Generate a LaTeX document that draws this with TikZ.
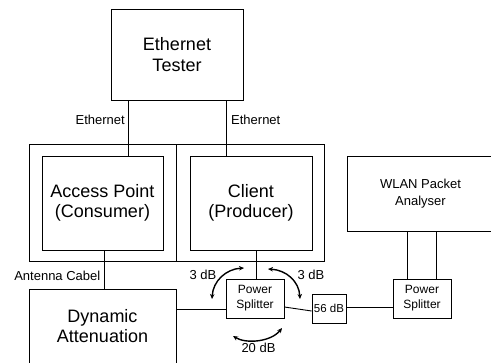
\documentclass[tikz,border=0pt]{standalone}
\usepackage{fontspec}
\setmainfont{Liberation Sans}
\usetikzlibrary{arrows.meta, positioning, calc}

\tikzset{
  bigbox/.style={draw=black, line width=0.9pt, align=center, inner sep=0pt,
                 font=\fontsize{18}{20.5}\selectfont},
  smallbox/.style={draw=black, line width=0.9pt, align=center, inner sep=0pt,
                   font=\fontsize{12}{15}\selectfont},
  framebox/.style={draw=black, line width=1pt, inner sep=0pt},
  lbl/.style={font=\fontsize{13}{15}\selectfont, inner sep=1pt},
  link/.style={line width=0.9pt},
  swing/.style={{Stealth[length=5pt,width=4.5pt]}-{Stealth[length=5pt,width=4.5pt]},
                line width=1.4pt},
}

\begin{document}
\begin{tikzpicture}[x=1pt, y=-1pt]
  \clip (0,0) rectangle (491,363);

  % outer frames round the two stations
  \node[framebox, minimum width=147pt, minimum height=117pt] (frameAP) at (102.5,203.5) {};
  \node[framebox, minimum width=148pt, minimum height=117pt] (frameCl) at (250,203.5) {};

  % devices
  \node[bigbox, minimum width=132pt, minimum height=91pt] (tester) at (177,54.5)
    {Ethernet\\Tester};
  \node[bigbox, minimum width=121pt, minimum height=94pt] (ap) at (102.5,203)
    {Access Point\\(Consumer)};
  \node[bigbox, minimum width=122pt, minimum height=94pt] (client) at (251,203)
    {Client\\(Producer)};
  \node[bigbox, minimum width=147pt, minimum height=74pt] (dyn) at (102.5,326)
    {Dynamic\\Attenuation};
  \node[smallbox, minimum width=147pt, minimum height=75pt,
        font=\fontsize{13}{17}\selectfont] (wlan) at (420.5,193.5)
    {WLAN Packet\\Analyser};

  \node[smallbox, minimum width=58pt, minimum height=39pt] (splitL) at (255,298.5)
    {Power\\Splitter};
  \node[smallbox, minimum width=34pt, minimum height=29pt,
        font=\fontsize{11.5}{14}\selectfont] (att) at (329,308.5) {56 dB};
  \node[smallbox, minimum width=58pt, minimum height=39pt] (splitR) at (422,298.5)
    {Power\\Splitter};

  % connector positions
  \coordinate (ethA) at (128,0);
  \coordinate (ethB) at (226,0);
  \coordinate (ant) at (104,0);
  \coordinate (cab) at (256,0);
  \coordinate (wA) at (407,0);
  \coordinate (wB) at (436,0);
  \coordinate (dynOut) at (0,309);
  \coordinate (splOut) at (0,307);
  \coordinate (attIn) at (0,311);

  \draw[link] (ethA |- tester.south) -- (ethA |- ap.north);
  \draw[link] (ethB |- tester.south) -- (ethB |- client.north);
  \draw[link] (ant |- ap.south) -- (ant |- dyn.north);
  \draw[link] (cab |- client.south) -- (cab |- splitL.north);
  \draw[link] (dyn.east |- dynOut) -- (splitL.west |- dynOut);
  \draw[link] (splitL.east |- splOut) -- (att.west |- attIn);
  \draw[link] (att.east |- splOut) -- (splitR.west |- splOut);
  \draw[link] (wA |- wlan.south) -- (wA |- splitR.north);
  \draw[link] (wB |- wlan.south) -- (wB |- splitR.north);

  % labels
  \node[lbl, anchor=east] (lblEthA) at (126,120) {Ethernet};
  \node[lbl, anchor=west] (lblEthB) at (230,120) {Ethernet};
  \node[lbl, anchor=east] (lblAnt) at (101.5,276) {Antenna Cabel};
  \node[lbl] (lblL) at (203,275) {3 dB};
  \node[lbl] (lblR) at (311,275) {3 dB};
  \node[lbl] (lblB) at (258.5,348) {20 dB};

  % isolation between splitter ports
  \coordinate (swL1) at (212,299);
  \coordinate (swL2) at (244,268);
  \coordinate (swR1) at (268,269);
  \coordinate (swR2) at (300,299);
  \coordinate (swB1) at (233,336);
  \coordinate (swB2) at (282,328);
  \draw[swing] (swL1) .. controls (213,281) and (226,269) .. (swL2);
  \draw[swing] (swR1) .. controls (286,270) and (299,281) .. (swR2);
  \draw[swing] (swB1) .. controls (246,344) and (271,342) .. (swB2);
\end{tikzpicture}
\end{document}
